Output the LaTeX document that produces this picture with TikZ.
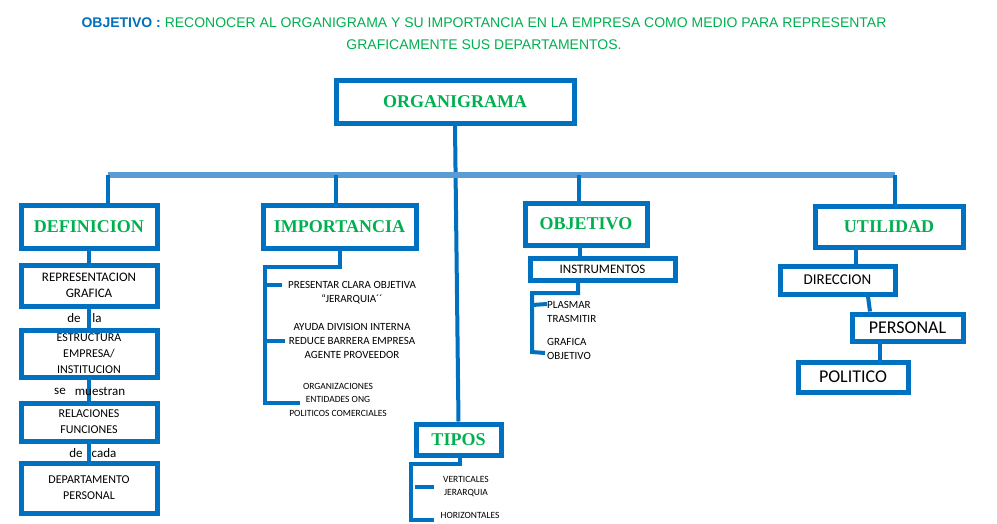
\documentclass[tikz,border=0pt]{standalone}
\usepackage{fontspec}
\setmainfont{Carlito}
\newfontfamily\ttlfont{Liberation Serif}
\newfontfamily\hdfont{Liberation Sans}
\definecolor{bl}{HTML}{0070C0}
\definecolor{gr}{HTML}{00B050}
\definecolor{lb}{HTML}{5B9BD5}
\begin{document}
\begin{tikzpicture}[x=1pt,y=-1pt,
  bx/.style={draw=bl,line width=5pt,fill=white,inner sep=0pt,align=center},
  hd/.style={bx,font=\ttlfont\bfseries\fontsize{18}{18}\selectfont,text=gr},
  tx/.style={font=\fontsize{13}{16}\selectfont,align=center,inner sep=0pt},
  sm/.style={font=\fontsize{11}{14}\selectfont,align=center,inner sep=0pt},
  ln/.style={draw=bl,line width=4pt},
  lab/.style={font=\fontsize{13}{14}\selectfont,inner sep=1pt}]
\useasboundingbox (0,0) rectangle (997,523);
\fill[white] (0,0) rectangle (997,523);
% title
\node[inner sep=0pt,font=\hdfont\fontsize{14}{22}\selectfont,align=center] (title) at (484,34)
 {{\color{bl}\bfseries OBJETIVO : }\color{gr}RECONOCER AL ORGANIGRAMA Y SU IMPORTANCIA EN LA EMPRESA COMO MEDIO PARA REPRESENTAR\\ \color{gr}GRAFICAMENTE SUS DEPARTAMENTOS.};
% main
\node[hd,minimum width=238,minimum height=43] (org) at (455,101.5) {ORGANIGRAMA};
\coordinate (bl1) at (108,175); \coordinate (br1) at (895,175);
\node[hd,minimum width=85,minimum height=31] (tipos) at (458.5,439.5) {TIPOS};
\draw[ln] (org.south) -- (tipos.north);
\draw[lb,line width=6pt] (bl1) -- (br1);
\node[hd,minimum width=136,minimum height=43] (def) at (89,226.5) {DEFINICION};
\node[hd,minimum width=153,minimum height=43] (imp) at (339.5,226.5) {IMPORTANCIA};
\node[hd,minimum width=122,minimum height=42] (obj) at (586,224) {OBJETIVO};
\node[hd,minimum width=148,minimum height=41] (uti) at (889,226.5) {UTILIDAD};
\draw[ln] (bl1) -- (bl1|-def.north);
\draw[ln] (336,175) -- (336,0|-imp.north);
\draw[ln] (579,175) -- (579,0|-obj.north);
\draw[ln] (br1) -- (br1|-uti.north);
% definicion chain
\node[bx,tx,minimum width=136,minimum height=41] (rep) at (89,285.5) {REPRESENTACION\\GRAFICA};
\node[bx,tx,minimum width=136,minimum height=47,font=\fontsize{12}{16}\selectfont] (est) at (89,353.5) {ESTRUCTURA\\EMPRESA/\\INSTITUCION};
\node[bx,tx,minimum width=136,minimum height=38,font=\fontsize{12}{16}\selectfont] (rel) at (89,422) {RELACIONES\\FUNCIONES};
\node[bx,tx,minimum width=136,minimum height=50,font=\fontsize{12}{16}\selectfont] (dep) at (89,488) {DEPARTAMENTO\\PERSONAL};
\draw[ln] (def) -- (rep); \draw[ln] (rep) -- (est); \draw[ln] (est) -- (rel); \draw[ln] (rel) -- (dep);
\node[lab] (l1) at (74,318) {de}; \node[lab] (l1b) at (97,318) {la};
\node[lab] (l2) at (60,391) {se}; \node[lab] (l2b) at (100,391) {muestran};
\node[lab] (l3) at (76,453) {de}; \node[lab] (l3b) at (104,453) {cada};
% importancia
\coordinate (i1) at (340,267); \coordinate (i2) at (265,267); \coordinate (i3) at (265,403);
\draw[ln] (imp.south-|i1) -- (i1) -- (i2) -- (i3) -- (300,403);
\draw[ln] (265,285) -- (282,285);
\draw[ln] (265,341) -- (285,341);
\node[sm] (ia) at (352,293) {PRESENTAR CLARA OBJETIVA\\``JERARQUIA´´};
\node[sm] (ib) at (352,340.5) {AYUDA DIVISION INTERNA\\REDUCE BARRERA EMPRESA\\AGENTE PROVEEDOR};
\node[sm,font=\fontsize{9.5}{13.5}\selectfont] (ic) at (338,399.5) {ORGANIZACIONES\\ENTIDADES ONG\\POLITICOS COMERCIALES};
% tipos
\coordinate (t1) at (460,464); \coordinate (t2) at (411,464); \coordinate (t3) at (411,520);
\draw[ln] (tipos.south-|t1) -- (t1) -- (t2) -- (t3) -- (434,520);
\draw[ln] (415,487) -- (434,487);
\node[sm,font=\fontsize{9.5}{13}\selectfont] (ta) at (466,486.5) {VERTICALES\\JERARQUIA};
\node[sm,font=\fontsize{9.5}{13}\selectfont] (tb) at (470,515) {HORIZONTALES};
% objetivo
\node[bx,tx,minimum width=145,minimum height=22] (ins) at (602.5,269) {INSTRUMENTOS};
\draw[ln] (obj.south-|580,0) -- (580,0|-ins.north);
\coordinate (o1) at (578,293); \coordinate (o2) at (532,293); \coordinate (o3) at (532,352);
\draw[ln] (ins.south-|o1) -- (o1) -- (o2) -- (o3) -- (545,353);
\draw[ln] (532,305) -- (547,304);
\node[sm,align=left,anchor=west] (oa) at (547,312) {PLASMAR\\TRASMITIR};
\node[sm,align=left,anchor=west] (ob) at (547,349) {GRAFICA\\OBJETIVO};
% utilidad
\node[bx,font=\fontsize{15}{16}\selectfont,minimum width=115,minimum height=28] (dir) at (837.5,280) {DIRECCION};
\node[bx,font=\fontsize{18}{18}\selectfont,minimum width=111,minimum height=27] (per) at (907.5,327.5) {PERSONAL};
\node[bx,font=\fontsize{18}{18}\selectfont,minimum width=110,minimum height=30] (pol) at (853,377) {POLITICO};
\draw[ln] (uti.south-|856,0) -- (856,0|-dir.north);
\draw[ln] (dir.south-|868,0) -- (870,0|-per.north);
\draw[ln] (per.south-|880,0) -- (880,0|-pol.north);
\end{tikzpicture}
\end{document}
